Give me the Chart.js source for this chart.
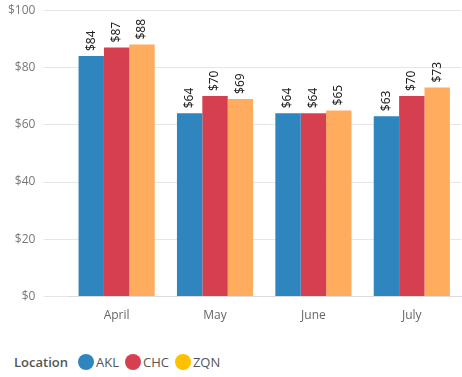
<!DOCTYPE html>
<html>
<head>
<meta charset="utf-8">
<script src="https://cdn.jsdelivr.net/npm/chart.js@4"></script>
<style>
    body { margin: 0; background: #fff; font-family: 'Open Sans', sans-serif; overflow: hidden; }
    #wrap { position: relative; width: 462px; height: 332px; margin-top: -5px; }
    #legend { position: absolute; left: 14px; top: 353px; display: flex; align-items: center; font-size: 13px; color: #555; }
    #legend .title { font-weight: 600; margin-right: 10px; }
    #legend .item { display: flex; align-items: center; margin-right: 6px; }
    #legend .dot { width: 16px; height: 16px; border-radius: 50%; margin-right: 2px; }
</style>
</head>
<body>
<div id="wrap"><canvas id="chart"></canvas></div>
<div id="legend"><span class="title">Location</span></div>
<script>
const months = ['April', 'May', 'June', 'July'];
const locations = ['AKL', 'CHC', 'ZQN'];
const akl = [84, 64, 64, 63];
const chc = [87, 70, 64, 70];
const zqn = [88, 69, 65, 73];
const barColors = ['#2F86BE', '#D63F50', '#FFAC5F'];
const legendColors = ['#2F86BE', '#D63F50', '#FFC000'];

// --- LEGEND (html) ---
const legend = document.getElementById('legend');
locations.forEach((name, i) => {
    legend.insertAdjacentHTML('beforeend',
        `<span class="item"><span class="dot" style="background:${legendColors[i]}"></span>${name}</span>`);
});

// --- VALUE LABELS ---
const valueLabels = {
    id: 'valueLabels',
    afterDatasetsDraw(chart) {
        const ctx = chart.ctx;
        ctx.save();
        ctx.font = '12px "Noto Sans", sans-serif';
        ctx.fillStyle = '#222';
        ctx.textAlign = 'left';
        ctx.textBaseline = 'middle';
        chart.data.datasets.forEach((ds, di) => {
            chart.getDatasetMeta(di).data.forEach((bar, i) => {
                ctx.save();
                ctx.translate(bar.x, bar.y - 5);
                ctx.rotate(-Math.PI / 2);
                ctx.fillText('$' + ds.data[i], 0, 0);
                ctx.restore();
            });
        });
        ctx.restore();
    }
};

new Chart(document.getElementById('chart'), {
    type: 'bar',
    data: {
        labels: months,
        datasets: [akl, chc, zqn].map((values, i) => ({
            label: locations[i],
            data: values,
            backgroundColor: barColors[i],
            barPercentage: 1,
            categoryPercentage: 0.774
        }))
    },
    options: {
        responsive: true,
        maintainAspectRatio: false,
        animation: false,
        layout: { padding: { top: -3, right: 1, left: 0 } },
        plugins: { legend: { display: false }, tooltip: { enabled: false } },
        scales: {
            x: {
                grid: { display: false },
                border: { color: '#dcdcdc' },
                ticks: { color: '#666', font: { family: 'Open Sans', size: 12 }, padding: 4 }
            },
            y: {
                min: 0,
                max: 100,
                ticks: { stepSize: 20, color: '#777', font: { family: 'Open Sans', size: 12 }, padding: 8, callback: v => '$' + v },
                grid: { color: '#e6e6e6', tickLength: 24 },
                border: { display: false }
            }
        }
    },
    plugins: [valueLabels]
});
</script>
</body>
</html>
